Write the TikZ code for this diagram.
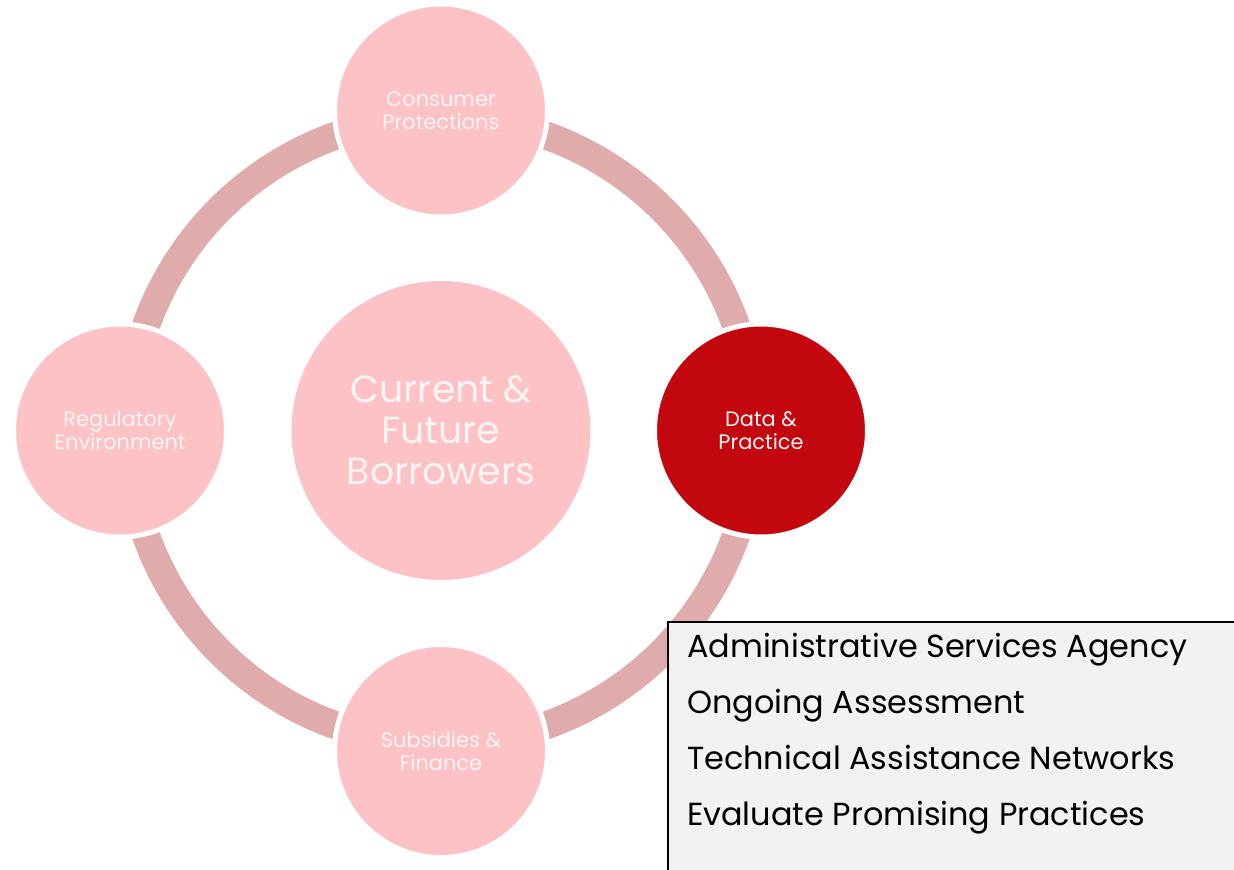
\documentclass[tikz,border=0pt]{standalone}
\usepackage{fontspec}
\setmainfont{Poppins}
\definecolor{ringc}{HTML}{DFABAB}
\definecolor{pinkc}{HTML}{FDC2C5}
\definecolor{redc}{HTML}{C3070F}
\definecolor{boxc}{HTML}{F2F2F2}
\definecolor{softwhite}{HTML}{FFF4F4}
\begin{document}
\begin{tikzpicture}[x=1bp,y=-1bp,
  hub/.style={circle, fill=pinkc, minimum size=299bp, inner sep=0pt,
    text=softwhite, align=center, font=\fontsize{38}{41}\selectfont},
  spoke/.style={circle, fill=pinkc, draw=white, line width=5bp,
    minimum size=213bp, inner sep=0pt, text=softwhite, align=center,
    font=\fontsize{21}{23}\selectfont},
  item/.style={anchor=base west, inner sep=0pt, text=black,
    font=\fontsize{32}{36}\selectfont}]
\useasboundingbox (0,0) rectangle (1234,870);

% ring joining the four outer circles
\coordinate (mid) at (441,430.5);
\draw[ringc, line width=28bp] (mid) circle[radius=313];

% centre and outer circles
\node[hub] (core) at (mid) {Current \&\\Future\\Borrowers};
\node[spoke] (cons) at (441,110.5) {Consumer\\Protections};
\node[spoke] (regu) at (120,430.5) {Regulatory\\Environment};
\node[spoke, fill=redc] (data) at (761,430.5) {Data \&\\Practice};
\node[spoke] (subs) at (441,751) {Subsidies \&\\Finance};

% list of activities
\node[draw=black, line width=2bp, fill=boxc, anchor=north west,
  minimum width=600bp, minimum height=300bp, inner sep=0pt] (box) at (667,621) {};
\node[item] (l1) at (687,657) {Administrative Services Agency};
\node[item] (l2) at (687,713) {Ongoing Assessment};
\node[item] (l3) at (687,769) {Technical Assistance Networks};
\node[item] (l4) at (687,825) {Evaluate Promising Practices};
\end{tikzpicture}
\end{document}
